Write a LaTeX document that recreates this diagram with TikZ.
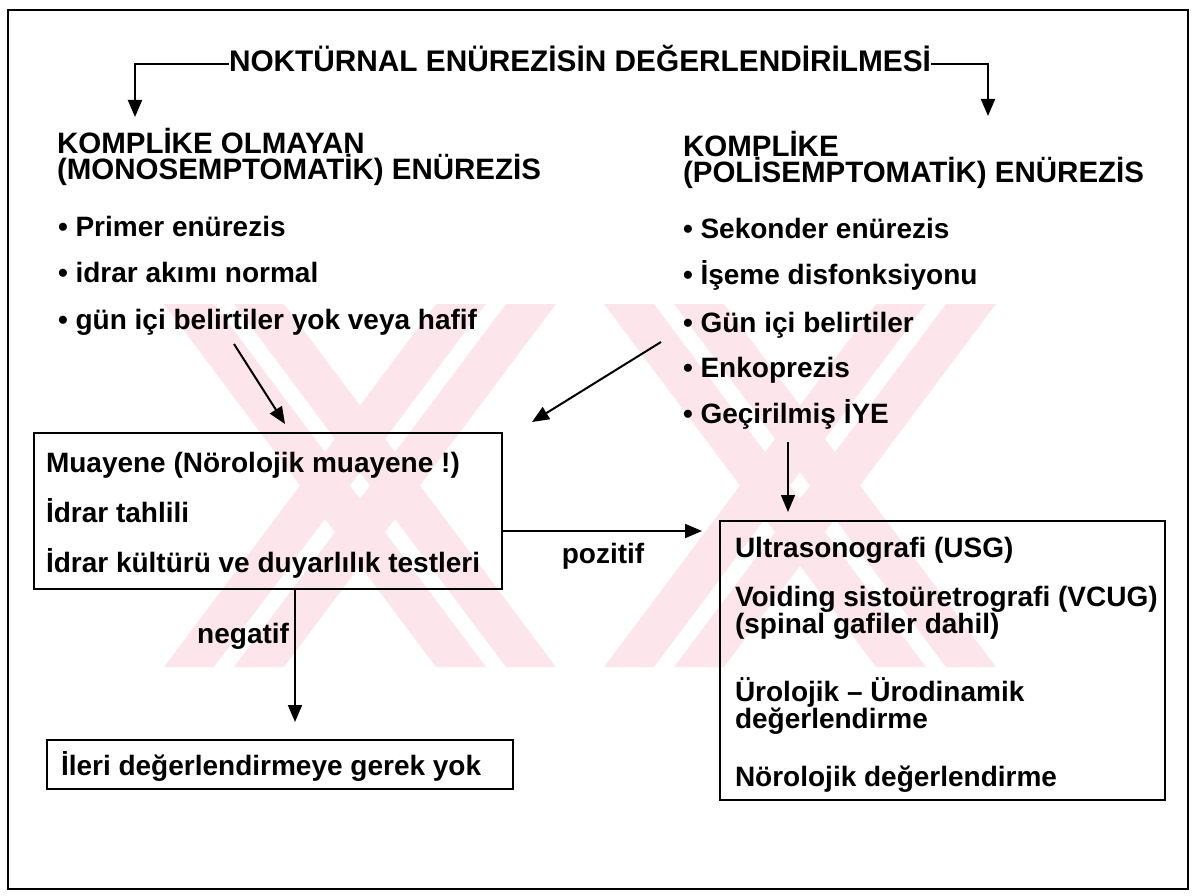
\documentclass[tikz,border=0pt]{standalone}
\usepackage{fontspec}
\newfontfamily\diagfont{Liberation Sans}
\usetikzlibrary{arrows.meta}
\definecolor{wmpink}{RGB}{252,230,235}
\begin{document}
\begin{tikzpicture}[x=1pt,y=-1pt,
  txt/.style={anchor=base west, inner sep=0pt, outer sep=0pt,
              font=\diagfont\bfseries\fontsize{28}{24}\selectfont},
  head/.style={txt, align=left, font=\diagfont\bfseries\fontsize{29.5}{24}\selectfont},
  twoline/.style={txt, align=left, font=\diagfont\bfseries\fontsize{28}{27}\selectfont},
  ttl/.style={txt, font=\diagfont\bfseries\fontsize{29.8}{31}\selectfont},
  panel/.style={draw, line width=2.2pt, inner sep=0pt, outer sep=0pt, anchor=north west},
  link/.style={line width=2pt, line join=miter},
  arr/.style={link, -{Triangle[length=17pt,width=14pt]}},
  wm/.style={fill=wmpink, draw=none}]
\useasboundingbox (0,0) rectangle (1192,896);

% faint striped background mark (two crossed double bands)
\foreach \cx in {360,800}{
  \foreach \a/\b in {-60/-10,10/60}{
    \fill[wm] (\cx-136+\a,304) -- (\cx-136+\b,304) -- (\cx+136+\b,667) -- (\cx+136+\a,667) -- cycle;
    \fill[wm] (\cx+136+\a,304) -- (\cx+136+\b,304) -- (\cx-136+\b,667) -- (\cx-136+\a,667) -- cycle;
  }
}

% outer frame
\draw[line width=2pt] (8,10) rectangle (1188,889);

% title and the two branches
\node[ttl] (title) at (229,72) {NOKTÜRNAL ENÜREZİSİN DEĞERLENDİRİLMESİ};
\coordinate (bl) at (135,64);
\coordinate (ltip) at (135,117);
\coordinate (br) at (988,64);
\coordinate (rtip) at (988,116);
\draw[arr] (title.west |- bl) -- (bl) -- (ltip);
\draw[arr] (title.east |- br) -- (br) -- (rtip);

% uncomplicated branch (base anchor = last line)
\node[head] (headL) at (57,180) {KOMPLİKE OLMAYAN\\(MONOSEMPTOMATİK) ENÜREZİS};
\node[txt] (bL1) at (58,237) {• Primer enürezis};
\node[txt] (bL2) at (58,283) {• idrar akımı normal};
\node[txt] (bL3) at (58,330) {• gün içi belirtiler yok veya hafif};

% complicated branch
\node[head] (headR) at (683,183) {KOMPLİKE\\(POLİSEMPTOMATİK) ENÜREZİS};
\node[txt] (bR1) at (683,239) {• Sekonder enürezis};
\node[txt] (bR2) at (683,285) {• İşeme disfonksiyonu};
\node[txt] (bR3) at (683,332) {• Gün içi belirtiler};
\node[txt] (bR4) at (683,377) {• Enkoprezis};
\node[txt] (bR5) at (683,423) {• Geçirilmiş İYE};

% examination box
\node[panel, minimum width=468pt, minimum height=156pt] (exam) at (34,433) {};
\node[txt] (ex1) at (46,472) {Muayene (Nörolojik muayene !)};
\node[txt] (ex2) at (46,522) {İdrar tahlili};
\node[txt] (ex3) at (46,572) {İdrar kültürü ve duyarlılık testleri};

% further work-up box
\node[panel, minimum width=445pt, minimum height=279pt] (workup) at (720,521) {};
\node[txt] (w1) at (735,557) {Ultrasonografi (USG)};
\node[twoline] (w2) at (735,633) {Voiding sistoüretrografi (VCUG)\\(spinal gafiler dahil)};
\node[twoline] (w4) at (735,728) {Ürolojik – Ürodinamik\\değerlendirme};
\node[txt] (w6) at (735,786) {Nörolojik değerlendirme};

% no further evaluation box
\node[panel, minimum width=466pt, minimum height=49pt] (none) at (47,740) {};
\node[txt] (n1) at (61,775) {İleri değerlendirmeye gerek yok};

% connectors
\coordinate (dL0) at (234,344);
\coordinate (dL1) at (285,424);
\draw[arr] (dL0) -- (dL1);
\coordinate (dR0) at (661,342);
\coordinate (dR1) at (532,422);
\draw[arr] (dR0) -- (dR1);

\coordinate (posA) at ([yshift=-20pt]exam.east);
\draw[arr, shorten >=18pt] (posA) -- (posA -| workup.west);
\node[txt, anchor=base] (pos) at (603,563) {pozitif};

\coordinate (negtip) at (295,722);
\draw[arr] (exam.south -| negtip) -- (negtip);
\node[txt, anchor=base east] (neg) at (289,643) {negatif};

\coordinate (gtop) at (788,442);
\draw[arr, line width=1.5pt, shorten >=9pt] (gtop) -- (gtop |- workup.north);
\end{tikzpicture}
\end{document}
